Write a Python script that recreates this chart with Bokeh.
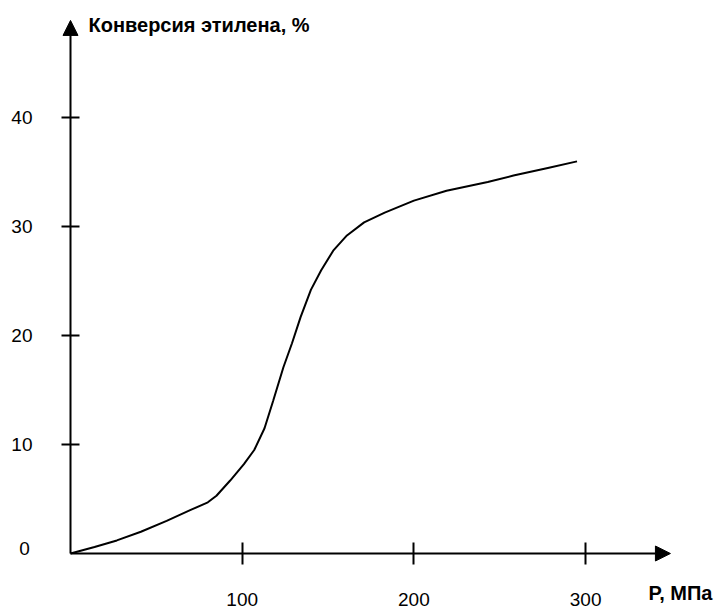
from bokeh.plotting import figure
from bokeh.models import Range1d, FixedTicker, Label, Arrow, NormalHead
from bokeh.embed import file_html
from bokeh.resources import INLINE

# Data
pressure = [0, 14, 27, 41, 56, 70, 80, 85, 93, 101, 107, 113, 118, 124, 129,
            134, 140, 146, 153, 161, 171, 183, 200, 219, 243, 258, 278, 295]
conversion = [0, 0.6, 1.2, 2.0, 3.0, 4.0, 4.7, 5.3, 6.7, 8.2, 9.5, 11.5, 14.0,
              17.1, 19.3, 21.7, 24.2, 26.0, 27.8, 29.2, 30.4, 31.3, 32.4, 33.3,
              34.1, 34.7, 35.4, 36.0]
x_ticks = [100, 200, 300]
y_ticks = [10, 20, 30, 40]
x_title = "P, МПа"
y_title = "Конверсия этилена, %"
origin_label = "0"

FONT = "Liberation Sans"
FS = "19px"
FS_BOLD = "20px"

p = figure(width=715, height=610, output_backend="svg", toolbar_location=None,
           x_range=Range1d(-40.77, 375.65), y_range=Range1d(-5.233, 50.77),
           min_border_left=0, min_border_right=0, min_border_top=0,
           min_border_bottom=0)
p.grid.visible = False
p.outline_line_color = None
p.background_fill_color = "white"
p.border_fill_color = "white"

p.line(pressure, conversion, line_width=2, line_color="black")

xa = p.xaxis[0]
xa.fixed_location = 0
xa.ticker = FixedTicker(ticks=x_ticks)
xa.axis_line_color = None
xa.major_tick_in = 11
xa.major_tick_out = 11
xa.major_tick_line_width = 2
xa.major_tick_line_color = "black"
xa.minor_tick_line_color = None
xa.major_label_text_font = FONT
xa.major_label_text_font_size = FS
xa.major_label_text_color = "black"
xa.major_label_standoff = 28

ya = p.yaxis[0]
ya.fixed_location = 0
ya.ticker = FixedTicker(ticks=y_ticks)
ya.axis_line_color = None
ya.major_tick_in = 9
ya.major_tick_out = 9
ya.major_tick_line_width = 2
ya.major_tick_line_color = "black"
ya.minor_tick_line_color = None
ya.major_label_text_font = FONT
ya.major_label_text_font_size = FS
ya.major_label_text_color = "black"
ya.major_label_standoff = 29

# axis lines with arrow heads
p.add_layout(Arrow(end=NormalHead(size=15, fill_color="black", line_color="black", line_width=1),
                   x_start=0, y_start=0, x_end=0, y_end=48.94,
                   line_width=2, line_color="black"))
p.add_layout(Arrow(end=NormalHead(size=15, fill_color="black", line_color="black", line_width=1),
                   x_start=0, y_start=0, x_end=349.4, y_end=0,
                   line_width=2, line_color="black"))

p.add_layout(Label(x=10.48, y=48.48, text=y_title, text_font=FONT,
                   text_font_size=FS_BOLD, text_font_style="bold", text_color="black",
                   text_align="left", text_baseline="middle"))
p.add_layout(Label(x=336.6, y=-3.67, text=x_title, text_font=FONT,
                   text_font_size=FS_BOLD, text_font_style="bold", text_color="black",
                   text_align="left", text_baseline="middle"))
p.add_layout(Label(x=-26.8, y=0.46, text=origin_label, text_font=FONT,
                   text_font_size=FS, text_color="black",
                   text_align="center", text_baseline="middle"))

open("out.html", "w").write(file_html(p, INLINE))
